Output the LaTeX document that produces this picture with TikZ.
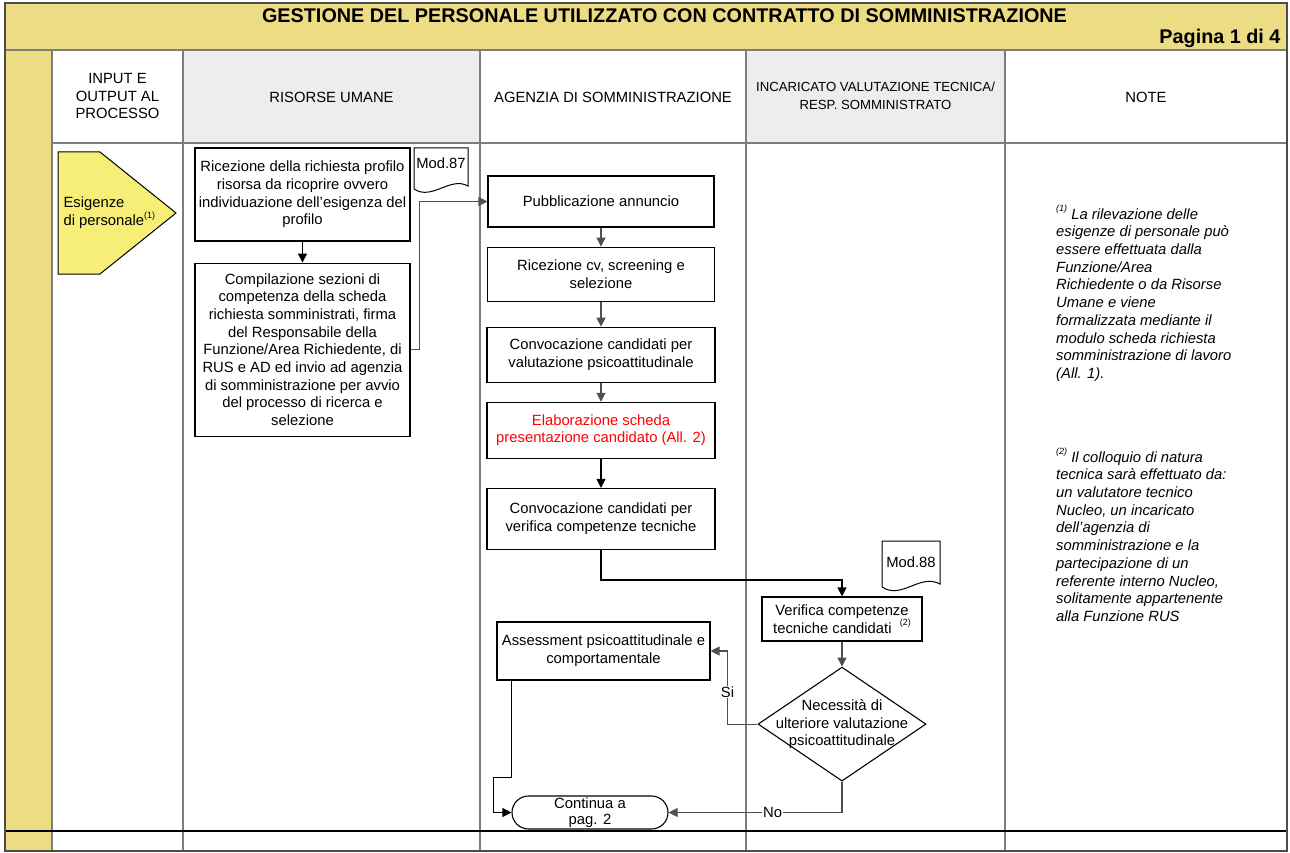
\documentclass[tikz,border=0pt]{standalone}
\usepackage{fontspec}
\setmainfont{Liberation Sans}
\usetikzlibrary{positioning}
\usetikzlibrary{shapes.geometric}
\usetikzlibrary{shapes.misc}
\usetikzlibrary{arrows.meta}

\definecolor{bandyellow}{RGB}{236,220,132}
\definecolor{inputyellow}{RGB}{246,238,118}
\definecolor{headgray}{RGB}{237,237,237}
\definecolor{lanegray}{RGB}{125,125,125}
\definecolor{linkgray}{RGB}{80,80,80}
\newcommand{\flowfont}{\fontsize{14.8pt}{17.7pt}\selectfont}
\newcommand{\supnote}[1]{\raisebox{0.5em}{\fontsize{9pt}{9pt}\selectfont #1}}

\begin{document}
\begin{tikzpicture}[x=1pt,y=-1pt,
    box/.style={draw=black, line width=1.1pt, fill=white, align=center,
        font=\flowfont, inner sep=2pt},
    docline/.style={draw=black, line width=1pt, fill=white},
    head/.style={align=center, font=\flowfont},
    note/.style={align=left, font=\itshape\flowfont, inner sep=0pt},
    link/.style={draw=linkgray, line width=1.1pt, -{Triangle[length=9pt,width=9pt]}},
    blacklink/.style={link, draw=black},
    lane/.style={draw=lanegray, line width=1.4pt},
    tag/.style={fill=white, font=\flowfont, inner sep=1pt}]
\useasboundingbox (0,0) rectangle (1290,853);

% band, lanes and headers
\fill[bandyellow] (5,3) rectangle (1287,50);
\fill[bandyellow] (5,50) rectangle (52,851);
\fill[headgray] (183,50) rectangle (480,143);
\fill[headgray] (746,50) rectangle (1005,143);
\node[font=\bfseries\fontsize{19.8pt}{22pt}\selectfont] (title) at (664.5,16)
    {GESTIONE DEL PERSONALE UTILIZZATO CON CONTRATTO DI SOMMINISTRAZIONE};
\node[font=\bfseries\fontsize{19.8pt}{22pt}\selectfont, anchor=east] (page) at (1284,38) {Pagina 1 di 4};
\draw[lane] (5,50) -- (1287,50);
\draw[lane] (52,143) -- (1287,143);
\foreach \x in {52,183,480,746,1005}
    \draw[lane] (\x,50) -- (\x,851);
\draw[black, line width=1.6pt] (5,831) -- (1287,831);
\draw[black!70, line width=1.4pt] (5,3) rectangle (1287,851);

\node[head] (hinput) at (117.5,96) {INPUT E\\OUTPUT AL\\PROCESSO};
\node[head] (hrisorse) at (331.5,97) {RISORSE UMANE};
\node[head] (hagenzia) at (613,97) {AGENZIA DI SOMMINISTRAZIONE};
\node[head, font=\fontsize{13.2pt}{18.5pt}\selectfont] (hincaricato) at (875.5,96)
    {INCARICATO VALUTAZIONE TECNICA/\\RESP. SOMMINISTRATO};
\node[head] (hnote) at (1146,97) {NOTE};

% input
\draw[fill=inputyellow, line width=1pt] (58,152) -- (100,152) -- (176,213) -- (100,274) -- (58,274) -- cycle;
\node[font=\flowfont, align=left, anchor=west] (esig) at (60,213) {Esigenze\\di personale\supnote{(1)}};

% risorse umane
\node[box, minimum width=215pt, minimum height=93pt] (ric) at (302.5,194.5)
    {Ricezione della richiesta profilo\\risorsa da ricoprire ovvero\\individuazione dell’esigenza del\\profilo};
\node[box, minimum width=215pt, minimum height=173pt] (comp) [below=21pt of ric]
    {Compilazione sezioni di\\competenza della scheda\\richiesta somministrati, firma\\del Responsabile della\\Funzione/Area Richiedente, di\\RUS e AD ed invio ad agenzia\\di somministrazione per avvio\\del processo di ricerca e\\selezione};
\coordinate (mod87pos) at (441,163);
\draw[docline] (mod87pos) ++(-27,-15) -- ++(54,0) -- ++(0,38)
    .. controls +(-18,-10) and +(18,12) .. ++(-54,3) -- cycle;
\node[font=\flowfont, inner sep=0pt] (mod87) at (mod87pos) {Mod.87};

% agenzia
\node[box, minimum width=226pt, minimum height=51pt] (pubbl) at (601,201.5) {Pubblicazione annuncio};
\node[box, minimum width=227pt, minimum height=54pt] (ricv) [below=19pt of pubbl] {Ricezione cv, screening e\\selezione};
\node[box, minimum width=228pt, minimum height=55pt] (convpsi) [below=25pt of ricv] {Convocazione candidati per\\valutazione psicoattitudinale};
\node[box, minimum width=228pt, minimum height=56pt, text=red] (elab) [below=19pt of convpsi] {Elaborazione scheda\\presentazione candidato (All. 2)};
\node[box, minimum width=228pt, minimum height=61pt] (convver) [below=29pt of elab] {Convocazione candidati per\\verifica competenze tecniche};
\node[box, minimum width=213pt, minimum height=58pt] (assess) at (603.5,651) {Assessment psicoattitudinale e\\comportamentale};
\node[draw=black, line width=1.1pt, fill=white, rounded rectangle, align=center,
    font=\fontsize{14.8pt}{16.5pt}\selectfont, minimum width=156pt, minimum height=33pt,
    inner sep=0pt] (cont) at (590,812.5) {Continua a\\pag. 2};

% incaricato
\node[box, minimum width=160pt, minimum height=44pt] (verif) at (842,619) {Verifica competenze\\tecniche candidati \ \supnote{(2)}};
\node[draw=black, line width=1.1pt, fill=white, diamond, minimum width=168pt, minimum height=114pt,
    inner sep=0pt, label={[align=center, font=\flowfont]center:{Necessità di\\ulteriore valutazione\\psicoattitudinale}}]
    (dec) [below=25pt of verif] {};
\coordinate (mod88pos) at (911,562);
\draw[docline] (mod88pos) ++(-29,-21) -- ++(58,0) -- ++(0,43)
    .. controls +(-20,-11) and +(20,13) .. ++(-58,3) -- cycle;
\node[font=\flowfont, inner sep=0pt] (mod88) at (mod88pos) {Mod.88};

% note
\node[note, anchor=north west] (note1) at (1056,205)
    {\supnote{(1)} La rilevazione delle\\esigenze di personale può\\essere effettuata dalla\\Funzione/Area\\Richiedente o da Risorse\\Umane e viene\\formalizzata mediante il\\modulo scheda richiesta\\somministrazione di lavoro\\(All. 1).};
\node[note, anchor=north west] (note2) at (1056,448)
    {\supnote{(2)} Il colloquio di natura\\tecnica sarà effettuato da:\\un valutatore tecnico\\Nucleo, un incaricato\\dell’agenzia di\\somministrazione e la\\partecipazione di un\\referente interno Nucleo,\\solitamente appartenente\\alla Funzione RUS};

% connectors
\draw[blacklink] (ric) -- (comp);
\draw[link] (comp.east) -- ++(9,0) |- (pubbl.west);
\draw[link] (pubbl) -- (ricv);
\draw[link] (ricv) -- (convpsi);
\draw[link] (convpsi) -- (elab);
\draw[blacklink] (elab) -- (convver);
\draw[blacklink] (convver.south) -- ++(0,30) -| (verif.north);
\draw[link] (verif) -- (dec);
\draw[link] (dec.west) -- ++(-30,0) |- node[tag, pos=0.22] {Si} (assess.east);
\draw[blacklink] ([xshift=15pt]assess.south west) -- ++(0,97) -- ++(-18,0) |- (cont.west);
\draw[link] (dec.south) |- node[tag, pos=0.7] {No} (cont.east);
\end{tikzpicture}
\end{document}
